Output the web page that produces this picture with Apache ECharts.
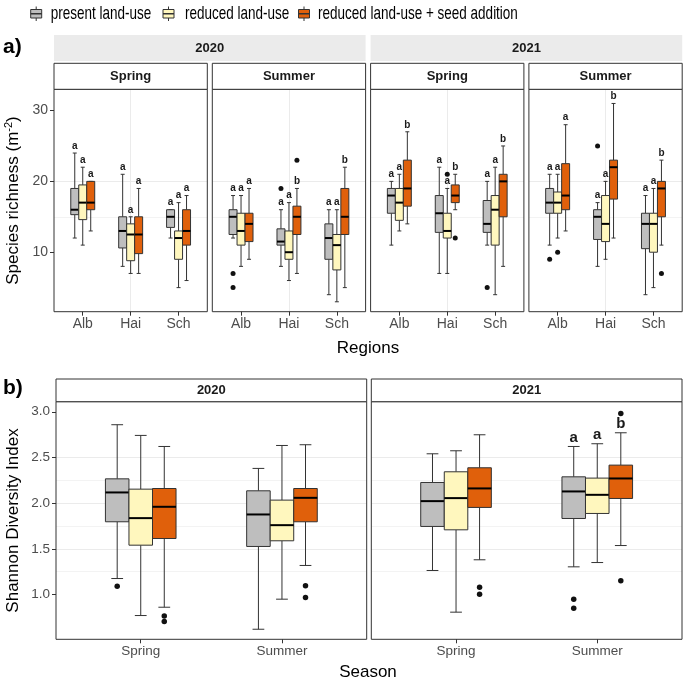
<!DOCTYPE html>
<html><head><meta charset="utf-8">
<script src="https://cdn.jsdelivr.net/npm/echarts@6/dist/echarts.min.js"></script>
<style>html,body{margin:0;padding:0;background:#fff}#c{width:685px;height:683px}</style>
</head><body><div id="c"></div>
<script>
// ---------- data ----------
const regions = ['Alb', 'Hai', 'Sch'];
const seasons = ['Spring', 'Summer'];
const years = ['2020', '2021'];
const treatments = ['present land-use', 'reduced land-use', 'reduced land-use + seed addition'];

// Species richness: [lower whisker, Q1, median, Q3, upper whisker] for Alb, Hai, Sch
const rich2020SpringPresent = [[12,15.3,16,19,24],[8,10.6,13,15,21],[12,13.5,15,16,16]];
const rich2020SpringReduced = [[11,14.6,17,19.5,22],[7,8.8,12.5,14,15],[5,9,12,13,17]];
const rich2020SpringSeed    = [[13,16,17,20,20],[7,9.8,12.5,15,19],[6,11,13,16,18]];
const rich2020SummerPresent = [[12,12.5,15,16,18],[8,11,11.5,13.3,16],[4,9,12,14,16]];
const rich2020SummerReduced = [[8,11,13,15.5,18],[6,9,10,13,17],[3,7.5,11,12.5,16]];
const rich2020SummerSeed    = [[9,11.5,14,15.5,19],[7,12.5,15,16.5,19],[5,12.5,15,19,22]];
const rich2021SpringPresent = [[11,15.5,18,19,20],[7,12.8,15.5,18,22],[11,12.8,14,17.3,20]];
const rich2021SpringReduced = [[13,14.5,17,19,21],[7,12,13,15.5,19],[4,11,16,18,22]];
const rich2021SpringSeed    = [[14,16.5,19,23,27],[16,17,18,19.5,21],[8,15,20,21,25]];
const rich2021SummerPresent = [[11,15.5,17,19,21],[8,11.8,15,16,17],[4,10.5,14,15.5,18]];
const rich2021SummerReduced = [[12,15.5,17,18.5,21],[9,11.5,14,18,20],[5,10,14,15.5,19]];
const rich2021SummerSeed    = [[13,16,18,22.5,28],[12,17.5,22,23,31],[11,15,19,20,23]];

// richness outliers: [region index, treatment index, value]
const richOut2020Spring = [];
const richOut2020Summer = [[0,0,7],[0,0,5],[1,0,19],[1,2,23]];
const richOut2021Spring = [[1,1,21],[1,2,12],[2,0,5]];
const richOut2021Summer = [[0,0,9],[0,1,10],[1,0,25],[2,2,7]];

// significance letters [treatment][region]
const letters2020Spring = [['a','a','a'],['a','a','a'],['a','a','a']];
const letters2020Summer = [['a','a','a'],['a','a','a'],['a','b','b']];
const letters2021Spring = [['a','a','a'],['a','a','a'],['b','b','b']];
const letters2021Summer = [['a','a','a'],['a','a','a'],['a','b','b']];

// Shannon diversity: [lower whisker, Q1, median, Q3, upper whisker] for Spring, Summer
const shan2020Present = [[1.175,1.796,2.117,2.266,2.858],[0.62,1.526,1.876,2.135,2.38]];
const shan2020Reduced = [[0.77,1.54,1.836,2.153,2.741],[0.949,1.588,1.759,2.033,2.631]];
const shan2020Seed    = [[0.861,1.613,1.96,2.16,2.62],[1.318,1.796,2.058,2.16,2.639]];
const shan2021Present = [[1.263,1.745,2.022,2.226,2.54],[1.303,1.832,2.128,2.288,2.62]];
const shan2021Reduced = [[0.807,1.708,2.055,2.343,2.573],[1.35,1.887,2.091,2.274,2.65]];
const shan2021Seed    = [[1.38,1.953,2.161,2.387,2.748],[1.536,2.051,2.27,2.416,2.77]];

// Shannon outliers: [season index, treatment index, value]
const shanOut2020 = [[0,0,1.091],[0,2,0.766],[0,2,0.704],[1,2,1.095],[1,2,0.967]];
const shanOut2021 = [[0,2,1.08],[0,2,1.004],[1,0,0.949],[1,0,0.85],[1,2,2.98],[1,2,1.15]];

const shanLetters2020 = [['',''],['',''],['','']];
const shanLetters2021 = [['','a'],['','a'],['','b']];

// tick values
const richTicks = [10, 20, 30];
const richMinor = [5, 15, 25];
const shanTicks = [1.0, 1.5, 2.0, 2.5, 3.0];
const shanMinor = [0.75, 1.25, 1.75, 2.25, 2.75];

// ---------- styling / layout ----------
const FONT = 'Liberation Sans, Arial, Helvetica, sans-serif';
const fills = ['#BEBEBE', '#FFF7BE', '#E0600B'];
const offsets = [-1/6, 0, 1/6];
const boxHalf = 1/12;
const lineCol = '#333333';
const gridCol = '#EBEBEB';

const topLefts = [54, 212.3, 370.6, 528.9];
const topW = 153.3, topTop = 89.3, topH = 222.4;
const botLefts = [56, 371.3];
const botW = 310.7, botTop = 401.7, botH = 237.6;
const richRange = [1.6, 33.0];
const shanRange = [0.51, 3.11];

const panels = [
  {year:0, season:0, boxes:[rich2020SpringPresent, rich2020SpringReduced, rich2020SpringSeed], out:richOut2020Spring, letters:letters2020Spring},
  {year:0, season:1, boxes:[rich2020SummerPresent, rich2020SummerReduced, rich2020SummerSeed], out:richOut2020Summer, letters:letters2020Summer},
  {year:1, season:0, boxes:[rich2021SpringPresent, rich2021SpringReduced, rich2021SpringSeed], out:richOut2021Spring, letters:letters2021Spring},
  {year:1, season:1, boxes:[rich2021SummerPresent, rich2021SummerReduced, rich2021SummerSeed], out:richOut2021Summer, letters:letters2021Summer},
];
const botPanels = [
  {year:0, boxes:[shan2020Present, shan2020Reduced, shan2020Seed], out:shanOut2020, letters:shanLetters2020},
  {year:1, boxes:[shan2021Present, shan2021Reduced, shan2021Seed], out:shanOut2021, letters:shanLetters2021},
];

const grid = [], xAxis = [], yAxis = [], series = [], graphic = [];

function addPanel(g, left, top, w, h, cats, yr, ticks, minor, showY, tickFmt, labFont, letterFont, letterOff, ptSize, p) {
  grid.push({left:left, top:top, width:w, height:h, show:false});
  const xmax = cats.length + 0.6;
  xAxis.push({
    type:'value', gridIndex:g, min:0.4, max:xmax,
    axisLine:{show:false},
    axisTick:{show:true, length:4, customValues: cats.map((c,i)=>i+1), lineStyle:{color:lineCol, width:1}},
    axisLabel:{show:true, customValues: cats.map((c,i)=>i+1), formatter: v => cats[Math.round(v)-1] || '', color:'#4D4D4D', fontSize:labFont, fontFamily:FONT, margin:5},
    splitLine:{show:true, showMinLine:false, showMaxLine:false, lineStyle:{color:gridCol, width:1}}
  });
  yAxis.push({
    type:'value', gridIndex:g, min:yr[0], max:yr[1],
    axisLine:{show:false},
    axisTick:{show:showY, length:4, customValues:ticks, lineStyle:{color:lineCol, width:1}},
    axisLabel:{show:showY, customValues:ticks, formatter:tickFmt, color:'#4D4D4D', fontSize:labFont, fontFamily:FONT, margin:6},
    splitLine:{show:true, showMinLine:false, showMaxLine:false, lineStyle:{color:gridCol, width:1}}
  });
  yAxis.push({
    type:'value', gridIndex:g, min:yr[0], max:yr[1], position:'left',
    axisLine:{show:false},
    axisTick:{show:false, customValues:minor},
    axisLabel:{show:false, customValues:minor},
    splitLine:{show:true, showMinLine:false, showMaxLine:false, lineStyle:{color:gridCol, width:0.6}}
  });
  p.boxes.forEach((arr, t) => {
    const letters = p.letters[t];
    series.push({
      type:'custom', name:treatments[t], xAxisIndex:g, yAxisIndex:2*g,
      itemStyle:{color:fills[t], borderColor:lineCol},
      z: 3,
      data: arr.map((d, i) => [i+1, d[0], d[1], d[2], d[3], d[4]]),
      renderItem: (params, api) => {
        const xc = api.value(0) + offsets[t];
        const lo = api.value(1), q1 = api.value(2), md = api.value(3), q3 = api.value(4), hi = api.value(5);
        const xl = api.coord([xc - boxHalf, md])[0];
        const xr = api.coord([xc + boxHalf, md])[0];
        const cx = api.coord([xc, md])[0];
        const yLo = api.coord([xc, lo])[1], yQ1 = api.coord([xc, q1])[1], yMd = api.coord([xc, md])[1];
        const yQ3 = api.coord([xc, q3])[1], yHi = api.coord([xc, hi])[1];
        const cap = (xr - xl) / 4;
        const ls = {stroke:lineCol, lineWidth:1};
        const children = [
          {type:'line', shape:{x1:cx, y1:yHi, x2:cx, y2:yQ3}, style:ls},
          {type:'line', shape:{x1:cx, y1:yQ1, x2:cx, y2:yLo}, style:ls},
          {type:'line', shape:{x1:cx-cap, y1:yHi, x2:cx+cap, y2:yHi}, style:ls},
          {type:'line', shape:{x1:cx-cap, y1:yLo, x2:cx+cap, y2:yLo}, style:ls},
          {type:'rect', shape:{x:xl, y:yQ3, width:xr-xl, height:yQ1-yQ3}, style:{fill:fills[t], stroke:lineCol, lineWidth:1}},
          {type:'line', shape:{x1:xl, y1:yMd, x2:xr, y2:yMd}, style:{stroke:'#000', lineWidth:2}}
        ];
        const lt = letters[params.dataIndex];
        if (lt) children.push({type:'text', style:{text:lt, x:cx, y:yHi - letterOff, align:'center', verticalAlign:'middle', font:'bold ' + letterFont + 'px ' + FONT, fill:'#1a1a1a'}});
        return {type:'group', children:children};
      }
    });
  });
  series.push({
    type:'scatter', xAxisIndex:g, yAxisIndex:2*g, symbolSize:ptSize, z:4,
    itemStyle:{color:'#111111', opacity:1},
    data: p.out.map(o => [o[0] + 1 + offsets[o[1]], o[2]])
  });
  graphic.push({type:'rect', shape:{x:left, y:top, width:w, height:h}, style:{fill:null, stroke:lineCol, lineWidth:1}, z:100});
}

panels.forEach((p, g) => {
  addPanel(g, topLefts[g], topTop, topW, topH, regions, richRange, richTicks, richMinor, g === 0, v => String(v), 14, 10, 7, 5, p);
  graphic.push({type:'rect', shape:{x:topLefts[g], y:63.3, width:topW, height:26}, style:{fill:'#fff', stroke:lineCol, lineWidth:1}, z:100});
  graphic.push({type:'text', style:{text:seasons[p.season], x:topLefts[g] + topW/2, y:76.6, align:'center', verticalAlign:'middle', font:'bold 13px ' + FONT, fill:'#1a1a1a'}, z:101});
});
botPanels.forEach((p, i) => {
  addPanel(4 + i, botLefts[i], botTop, botW, botH, seasons, shanRange, shanTicks, shanMinor, i === 0, v => v.toFixed(1), 13.5, 15, 9, 5.5, p);
  graphic.push({type:'rect', shape:{x:botLefts[i], y:379, width:botW, height:22.7}, style:{fill:'#fff', stroke:lineCol, lineWidth:1}, z:100});
  graphic.push({type:'text', style:{text:years[p.year], x:botLefts[i] + botW/2, y:390.5, align:'center', verticalAlign:'middle', font:'bold 13px ' + FONT, fill:'#1a1a1a'}, z:101});
});
[[topLefts[0], topLefts[1] + topW], [topLefts[2], topLefts[3] + topW]].forEach((r, i) => {
  graphic.push({type:'rect', shape:{x:r[0], y:35, width:r[1]-r[0], height:26}, style:{fill:'#EBEBEB'}, z:99});
  graphic.push({type:'text', style:{text:years[i], x:(r[0]+r[1])/2, y:48.3, align:'center', verticalAlign:'middle', font:'bold 13px ' + FONT, fill:'#1a1a1a'}, z:101});
});
// titles
graphic.push({type:'text', style:{text:'a)', x:3, y:47, verticalAlign:'middle', font:'bold 21px ' + FONT, fill:'#000'}, z:101});
graphic.push({type:'text', style:{text:'b)', x:3, y:388, verticalAlign:'middle', font:'bold 21px ' + FONT, fill:'#000'}, z:101});
graphic.push({type:'text', x:13, y:200.5, rotation:Math.PI/2, style:{
  text:'{t|Species richness (m}{s|-2}{t|)}', align:'center', verticalAlign:'middle',
  rich:{t:{fontSize:17, fontFamily:FONT, fill:'#000', color:'#000'}, s:{fontSize:11, fontFamily:FONT, color:'#000', fill:'#000', padding:[0,0,9,0]}}
}, z:101});
graphic.push({type:'text', x:13, y:520.5, rotation:Math.PI/2, style:{text:'Shannon Diversity Index', align:'center', verticalAlign:'middle', font:'17px ' + FONT, fill:'#000'}, z:101});
graphic.push({type:'text', style:{text:'Regions', x:368, y:348, align:'center', verticalAlign:'middle', font:'17px ' + FONT, fill:'#000'}, z:101});
graphic.push({type:'text', style:{text:'Season', x:368, y:672, align:'center', verticalAlign:'middle', font:'17px ' + FONT, fill:'#000'}, z:101});

// legend (drawn as key glyphs + text)
const legendIconX = [30.7, 163, 298.5];
const legendTextX = [50.7, 185, 318];
treatments.forEach((n, t) => {
  const x0 = legendIconX[t], cx = x0 + 5.5;
  graphic.push({type:'group', z:101, children:[
    {type:'line', shape:{x1:cx, y1:6.5, x2:cx, y2:9.5}, style:{stroke:lineCol, lineWidth:1}},
    {type:'line', shape:{x1:cx, y1:18, x2:cx, y2:21}, style:{stroke:lineCol, lineWidth:1}},
    {type:'rect', shape:{x:x0, y:9.5, width:11, height:8.5}, style:{fill:fills[t], stroke:lineCol, lineWidth:1}},
    {type:'line', shape:{x1:x0, y1:13.75, x2:x0+11, y2:13.75}, style:{stroke:lineCol, lineWidth:1.5}}
  ]});
  graphic.push({type:'text', x:legendTextX[t], y:13.5, scaleX:0.71, z:101,
    style:{text:n, x:0, y:0, align:'left', verticalAlign:'middle', font:'19px ' + FONT, fill:'#000'}});
});

const option = {
  animation:false,
  backgroundColor:'#fff',
  grid, xAxis, yAxis, series, graphic
};
const chart = echarts.init(document.getElementById('c'), null, {renderer:'canvas'});
chart.setOption(option);
</script></body></html>
